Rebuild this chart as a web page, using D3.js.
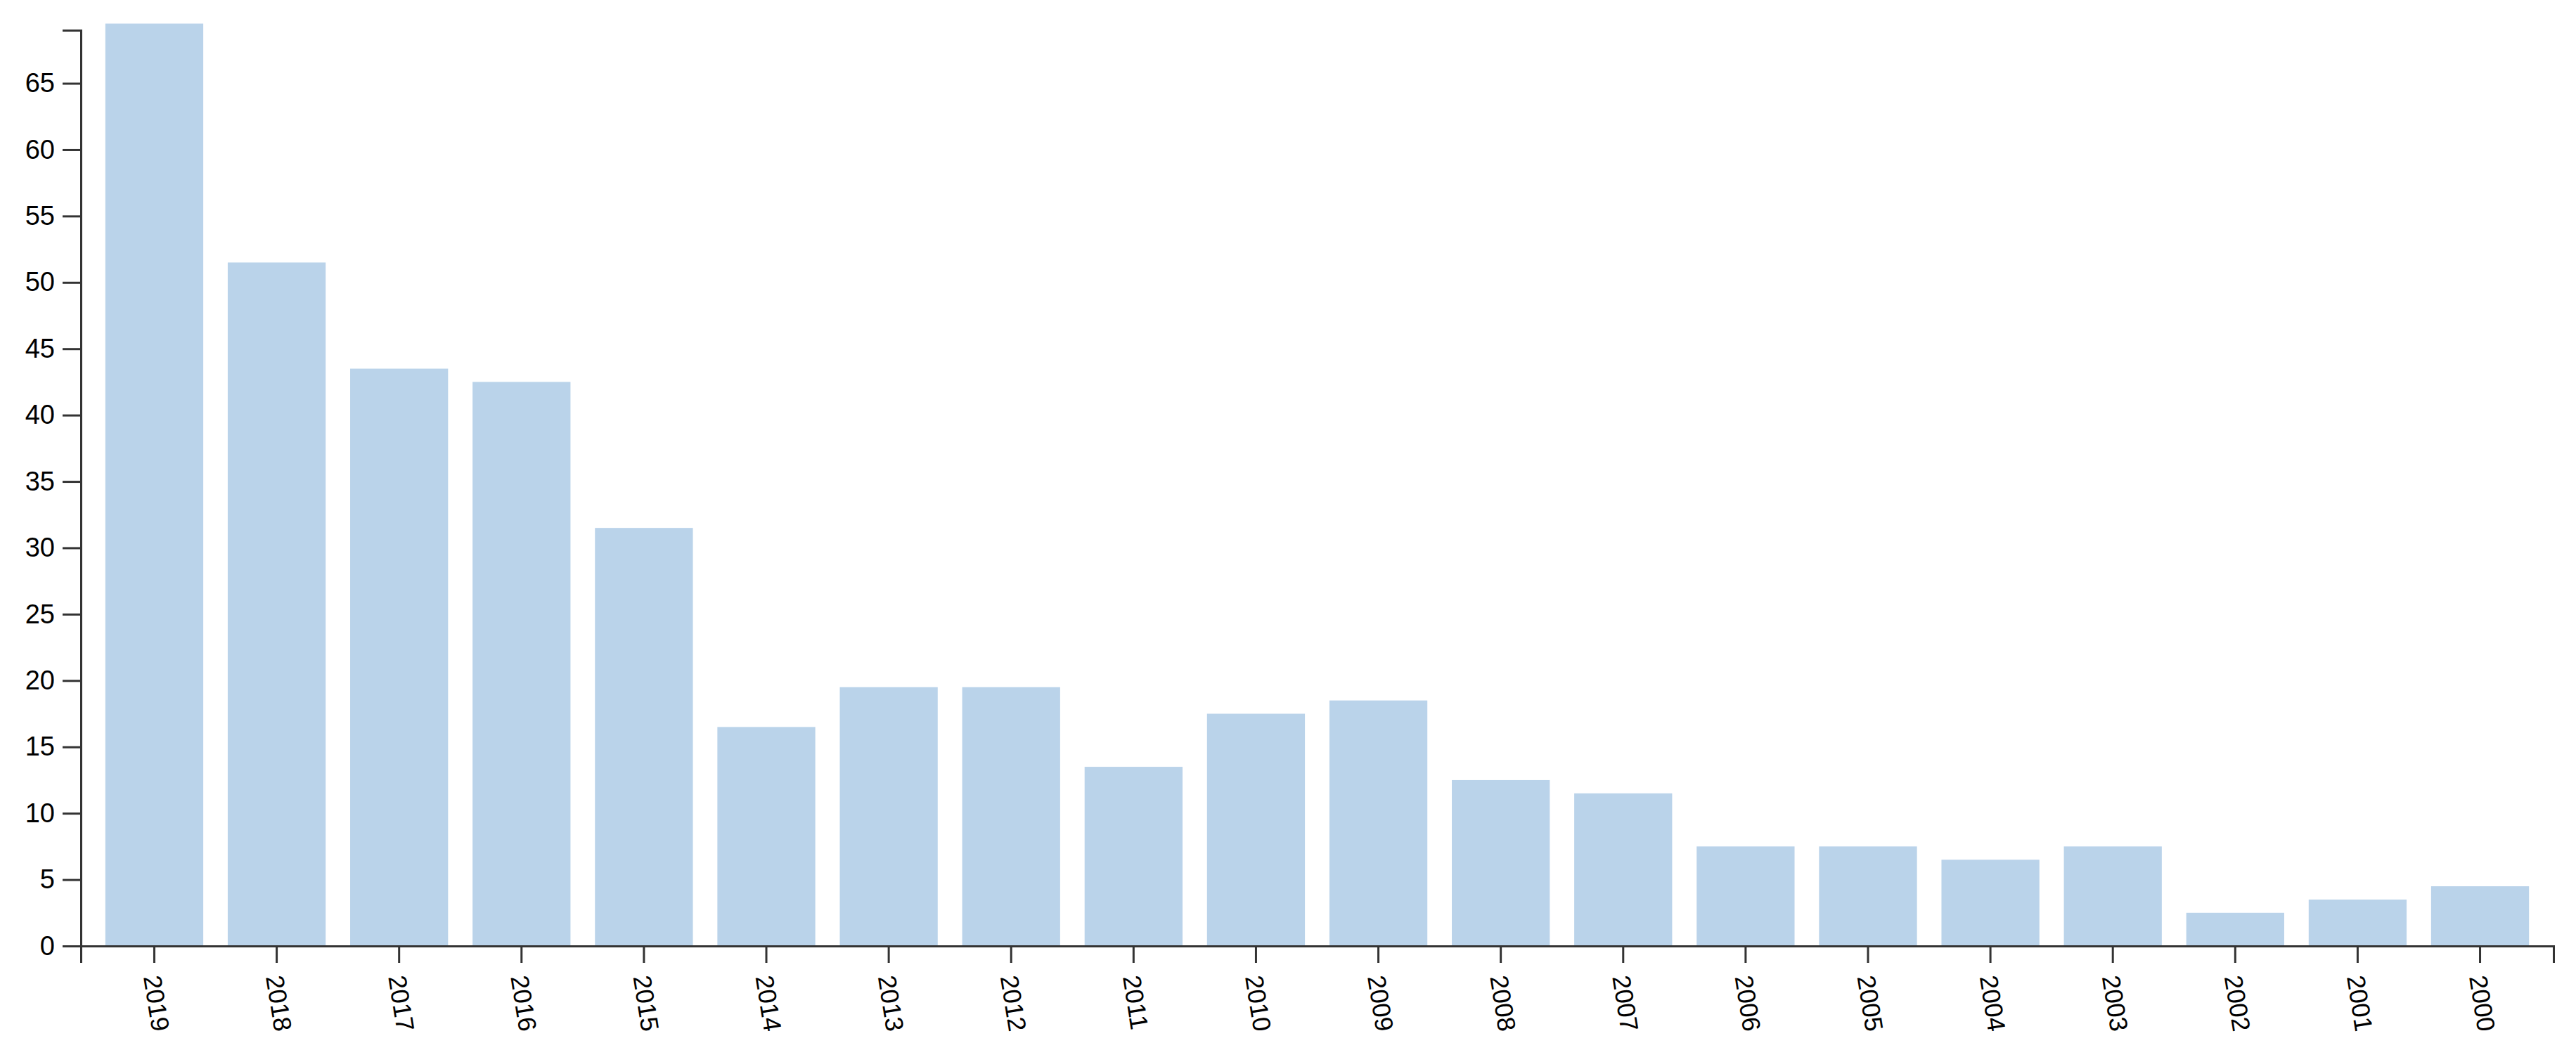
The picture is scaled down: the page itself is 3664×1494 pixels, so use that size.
<!DOCTYPE html>
<html>
<head>
<meta charset="utf-8">
<script src="https://d3js.org/d3.v7.min.js"></script>
<style>
    body { margin: 0; background: #fff; }
    .axis text { font-family: "Liberation Sans", Arial, sans-serif; fill: #000; }
    .axis path, .axis line { stroke: #333; stroke-width: 3px; }
</style>
</head>
<body>
<svg id="canvas"></svg>
<script>
"use strict"

// Chart data
const years = ["2019", "2018", "2017", "2016", "2015", "2014", "2013", "2012", "2011", "2010",
    "2009", "2008", "2007", "2006", "2005", "2004", "2003", "2002", "2001", "2000"];
const counts = [69.5, 51.5, 43.5, 42.5, 31.5, 16.5, 19.5, 19.5, 13.5, 17.5,
    18.5, 12.5, 11.5, 7.5, 7.5, 6.5, 7.5, 2.5, 3.5, 4.5];
const yTicks = [0, 5, 10, 15, 20, 25, 30, 35, 40, 45, 50, 55, 60, 65];
const yMax = 69;

// Static sizes
const canvasWidth = 3664;
const canvasHeight = 1494;
const margin = { top: 43, right: 32, bottom: 148, left: 115 };

const canvas = d3.select("#canvas")
    .attr("width", canvasWidth)
    .attr("height", canvasHeight);

// Scales
const x = d3.scaleBand()
    .domain(years)
    .range([margin.left, canvasWidth - margin.right])
    .padding(0.2);

const y = d3.scaleLinear()
    .domain([0, yMax])
    .range([canvasHeight - margin.bottom, margin.top]);

// Bars
canvas.append("g")
    .selectAll("rect")
    .data(counts)
    .join("rect")
    .attr("x", (d, i) => x(years[i]))
    .attr("width", x.bandwidth())
    .attr("y", d => y(d))
    .attr("height", d => y(0) - y(d))
    .attr("fill", "#bad3ea");

// X axis with slanted year labels
canvas.append("g")
    .attr("class", "axis")
    .attr("transform", `translate(0,${y(0)})`)
    .call(d3.axisBottom(x).tickSize(24))
    .selectAll("text")
    .attr("font-size", 36)
    .attr("y", 0)
    .attr("x", 0)
    .attr("dy", "0.35em")
    .attr("text-anchor", "start")
    .attr("transform", "translate(-3,42) rotate(81)");

// Y axis
canvas.append("g")
    .attr("class", "axis")
    .attr("transform", `translate(${margin.left},0)`)
    .call(d3.axisLeft(y).tickValues(yTicks).tickSize(26).tickPadding(11))
    .selectAll("text")
    .attr("font-size", 38);
</script>
</body>
</html>
